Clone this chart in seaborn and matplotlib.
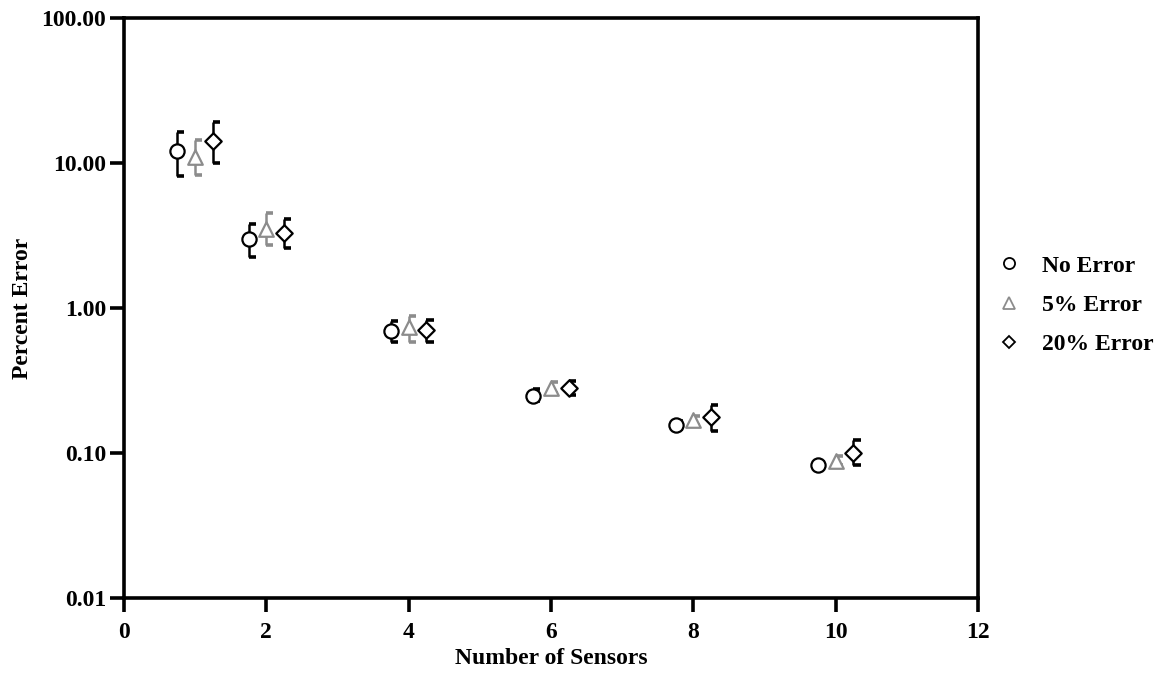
import numpy as np
import pandas as pd
import matplotlib
matplotlib.use("Agg")
import matplotlib.pyplot as plt
from matplotlib.lines import Line2D
from matplotlib.ticker import FixedLocator, NullLocator
import seaborn as sns

# values
sensors = [1, 2, 4, 6, 8, 10]
series_names = ["No Error", "5% Error", "20% Error"]

no_err = [12.1, 3.0, 0.69, 0.247, 0.156, 0.083]
no_err_lo = [8.1, 2.25, 0.58, 0.228, 0.147, 0.080]
no_err_hi = [16.4, 3.8, 0.81, 0.275, 0.165, 0.087]

err5 = [11.0, 3.5, 0.74, 0.28, 0.168, 0.088]
err5_lo = [8.2, 2.7, 0.58, 0.26, 0.156, 0.083]
err5_hi = [14.4, 4.5, 0.88, 0.31, 0.18, 0.095]

err20 = [14.2, 3.3, 0.71, 0.28, 0.177, 0.10]
err20_lo = [10.0, 2.6, 0.58, 0.25, 0.141, 0.083]
err20_hi = [19.2, 4.1, 0.83, 0.315, 0.214, 0.123]

offsets = [-0.25, 0.0, 0.25]
colors = ["#000000", "#8c8c8c", "#000000"]
markers = ["o", "^", "D"]
msizes = [105, 110, 70]

rows = []
for name, off, y, lo, hi in zip(series_names, offsets,
                                [no_err, err5, err20],
                                [no_err_lo, err5_lo, err20_lo],
                                [no_err_hi, err5_hi, err20_hi]):
    for s, v, l, h in zip(sensors, y, lo, hi):
        rows.append({"series": name, "x": s + off, "y": v, "lo": l, "hi": h})
df = pd.DataFrame(rows)

sns.set_style("ticks")
plt.rcParams["font.family"] = ["Liberation Serif", "DejaVu Serif"]
plt.rcParams["font.weight"] = "bold"
plt.rcParams["text.color"] = "black"
plt.rcParams["axes.labelcolor"] = "black"
plt.rcParams["xtick.color"] = "black"
plt.rcParams["ytick.color"] = "black"

fig = plt.figure(figsize=(11.68, 6.75), dpi=100)
ax = fig.add_axes([124 / 1168, 1 - 598 / 675, (978 - 124) / 1168, (598 - 18) / 675])

cap = 0.1
for name, col in zip(series_names, colors):
    d = df[df["series"] == name]
    ax.vlines(d["x"], d["lo"], d["hi"], color=col, lw=1.8, zorder=2)
    ax.hlines(d["lo"], d["x"], d["x"] + cap, color=col, lw=2.6, zorder=2)
    ax.hlines(d["hi"], d["x"], d["x"] + cap, color=col, lw=2.6, zorder=2)

for name, col, m, ms in zip(series_names, colors, markers, msizes):
    d = df[df["series"] == name]
    sns.scatterplot(data=d, x="x", y="y", ax=ax, marker=m, s=ms,
                    facecolor="white", edgecolor=col, linewidth=1.6,
                    zorder=3, legend=False)

ax.set_yscale("log")
ax.set_ylim(0.01, 100)
ax.set_xlim(0, 12)
ax.yaxis.set_major_locator(FixedLocator([0.01, 0.1, 1, 10, 100]))
ax.yaxis.set_minor_locator(NullLocator())
ax.set_yticklabels(["0.01", "0.10", "1.00", "10.00", "100.00"])
ax.set_xticks(range(0, 13, 2))

for sp in ax.spines.values():
    sp.set_linewidth(2.6)
    sp.set_color("black")
    sp.set_visible(True)
ax.tick_params(axis="both", direction="out", length=10, width=2.6, labelsize=17)
ax.tick_params(axis="y", pad=3)
ax.tick_params(axis="x", pad=7)
for lab in ax.get_xticklabels() + ax.get_yticklabels():
    lab.set_fontweight("bold")

ax.set_xlabel("Number of Sensors", fontsize=17, fontweight="bold", labelpad=4)
ax.set_ylabel("Percent Error", fontsize=17, fontweight="bold", labelpad=6)

handles = [Line2D([], [], ls="none", marker=m, markersize=ms, markerfacecolor="white",
                  markeredgecolor=c, markeredgewidth=1.3)
           for m, c, ms in zip(markers, colors, [8, 8, 6])]
leg = ax.legend(handles, series_names, loc="center left", bbox_to_anchor=(1.0, 0.505),
                frameon=False, handlelength=1.2, handletextpad=0.8, labelspacing=0.75,
                borderaxespad=0.3,
                prop={"family": "Liberation Serif", "weight": "bold", "size": 17})

fig.savefig("out.png", dpi=100)
